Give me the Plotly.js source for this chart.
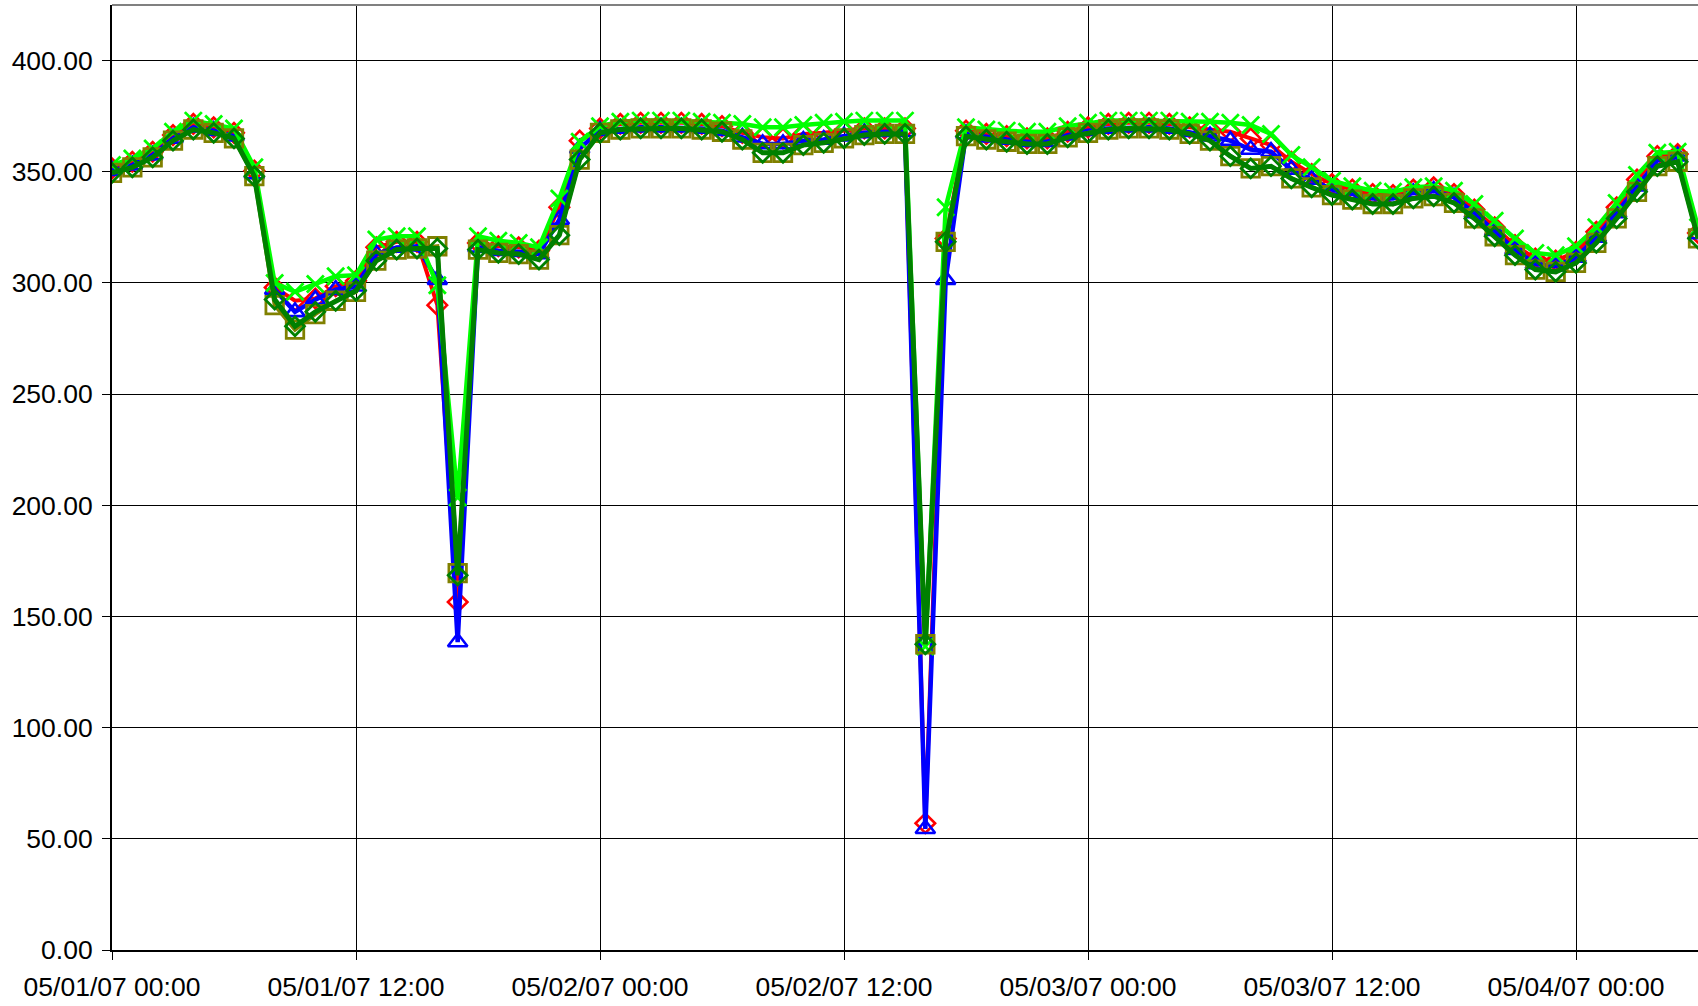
<!DOCTYPE html>
<html>
<head>
<meta charset="utf-8">
<script src="https://cdn.plot.ly/plotly-3.0.1.min.js"></script>
<style>html,body{margin:0;padding:0;background:#fff;}#chart{width:1698px;height:1006px;}</style>
</head>
<body>
<div id="chart"></div>
<script>
// Hourly readings starting 2007-05-01 00:00
const startTime = '2007-05-01T00:00:00';
const seriesRed = [351.5,354.5,359,366.5,371.5,370,367.5,350.5,298,292,
  293,298.5,301,316,318.5,318.5,290,156.5,318,316.5,
  316,314.5,334,364,369.5,371.5,372,372,372,371.5,
  370.5,367.5,365.5,365,367,367.5,368.5,369.5,369.5,369.5,
  57,320,368.5,367,366,365,365,368,370,371.5,
  372,372,371.5,370,369,368,365,362,354.5,349,
  344.5,342,340,339.5,342,343,340,333,325,317,
  311,310,314,323,334,346.5,357,358,322.5];
const seriesBlue = [350.5,353,357.5,365,370,368.5,366,349,297,287,
  292.5,297,298.5,313,316,316.5,301.5,138.5,316,314.5,
  314,313,328.5,360.5,368.5,369.5,370,370,370,369.5,
  368.5,365.5,362.5,362.5,364,364.5,366,367.5,368,368,
  54.5,301.5,367,365.5,364.5,363.5,363.5,366.5,368.5,369.5,
  370,370,369.5,368,366,364,360,359,351,346.5,
  342,340,338,338,340.5,341.5,338.5,331.5,323.5,315,
  308.5,307.5,311.5,320.5,331.5,343.5,355,357,322];
const seriesLime = [353,356,360.5,368,373,371.5,369.5,352,300,296,
  299.5,303,303.5,319.5,321,321,299,203.5,321,319,
  318,316,338,363.5,370.5,372.5,373,373,373,372.5,
  372,371.5,370,370,371,372,372.5,373,373,373,
  136.5,334,370,369,368.5,368,368,370.5,372,373,
  373,373,373,372.5,372.5,372,371,367,357.5,352,
  346,343.5,341.5,341,343,343.5,341.5,335.5,328,320,
  313.5,312.5,316.5,325,336,348.5,358.5,359,325];
const seriesOlive = [349.5,352,356.5,364,369,367.5,365,348,290,279,
  286,292,296,310,315,315.5,316.5,169.5,315,313.5,
  313,310.5,321.5,355.5,367.5,369,369.5,369.5,369.5,369,
  368,364.5,358.5,358.5,362,363,365,366.5,367,367,
  137.5,318.5,366,364.5,363.5,362.5,362.5,365.5,367.5,369,
  369.5,369.5,369,367,364,357,351.5,352.5,347,343,
  339.5,337.5,335.5,335.5,338,339,336,329,321,312.5,
  306,305,309,318,329,341,352.5,354.5,320];
const seriesDarkGreen = [349.5,352,356.5,364,369,367.5,365,348,292.5,280.5,
  287,292,296.5,310,315,315.5,315.5,168.5,315,313.5,
  313,310.5,321.5,355.5,367.5,369,369.5,369.5,369.5,369,
  368,364.5,358.5,358.5,362,363,365,366.5,367,367,
  137.5,318.5,366,364.5,363.5,362.5,362.5,365.5,367.5,369,
  369.5,369.5,369,367,364,357,351.5,352.5,347,343,
  339.5,337.5,335.5,335.5,338,339,336,329,321,312.5,
  306,305,309,318,329,341,352.5,354.5,320];
const yTickVals = [0,50,100,150,200,250,300,350,400];

const t0 = new Date(startTime + 'Z').getTime();
function fmt(ms){
  const d = new Date(ms);
  const p = n => String(n).padStart(2,'0');
  return d.getUTCFullYear()+'-'+p(d.getUTCMonth()+1)+'-'+p(d.getUTCDate())+' '+p(d.getUTCHours())+':00';
}
const times = seriesOlive.map((_, i) => fmt(t0 + i*3600000));

function tr(y, color, symbol, msize, lw, mlw){
  return {x: times, y: y, type: 'scatter', mode: 'lines+markers', cliponaxis: true,
    line: {color: color, width: lw},
    marker: {symbol: symbol, size: msize, color: color, line: {color: color, width: mlw}},
    hoverinfo: 'x+y'};
}
const data = [
  tr(seriesRed, '#FF0000', 'diamond-open', 15, 4, 2.6),
  tr(seriesBlue, '#0000FF', 'triangle-up-open', 17, 4.5, 2.6),
  tr(seriesLime, '#00FF00', 'x-thin-open', 17, 4.5, 2.8),
  tr(seriesOlive, '#808000', 'square-open', 17.5, 4, 2.8),
  tr(seriesDarkGreen, '#008000', 'diamond-open', 14.5, 5, 2.8)
];
const font = {family: '"Liberation Sans", Arial, sans-serif', size: 26.5, color: '#000'};
const layout = {
  width: 1698, height: 1006,
  margin: {l: 112, r: 0, t: 5, b: 56, pad: 0},
  paper_bgcolor: '#fff', plot_bgcolor: '#fff',
  showlegend: false,
  font: font,
  xaxis: {
    type: 'date',
    range: ['2007-05-01 00:00', '2007-05-04 06:00'],
    tick0: '2007-05-01 00:00', dtick: 12*3600*1000,
    tickformat: '%m/%d/%y %H:%M',
    showgrid: true, gridcolor: '#000', gridwidth: 1,
    showline: true, linecolor: '#000', linewidth: 2,
    ticks: 'outside', ticklen: 8, tickcolor: '#000', tickwidth: 1,
    ticklabelstandoff: 4,
    zeroline: false, tickfont: font
  },
  yaxis: {
    range: [0, 425],
    tickvals: yTickVals, tickformat: '.2f',
    showgrid: true, gridcolor: '#000', gridwidth: 1,
    showline: true, linecolor: '#000', linewidth: 2,
    ticks: 'outside', ticklen: 8, tickcolor: '#000', tickwidth: 1,
    ticklabelstandoff: 4,
    zeroline: false, tickfont: font
  },
  shapes: [{type: 'line', xref: 'paper', yref: 'paper', x0: 0, x1: 1, y0: 1, y1: 1,
    line: {color: '#808080', width: 2}}]
};
Plotly.newPlot('chart', data, layout, {staticPlot: true, displayModeBar: false});
</script>
</body>
</html>
